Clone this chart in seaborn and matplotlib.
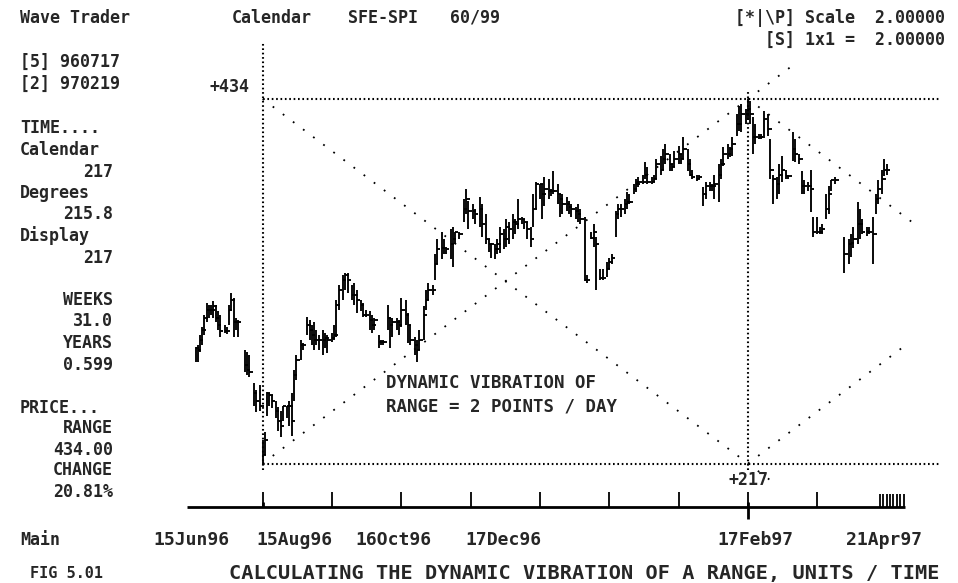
import pandas as pd
import seaborn as sns
import matplotlib.pyplot as plt

# daily bars, calendar days after 15Jun96, points above the 15Jul96 low
day = [0, 1, 2, 3, 4, 5, 6, 7, 8, 9, 10, 11, 13, 14, 15, 16, 17, 18, 19, 22,
       23, 24, 26, 27, 29, 30, 31, 32, 33, 34, 36, 37, 38, 39, 41, 42, 43, 44, 45, 47,
       48, 50, 51, 52, 53, 54, 55, 57, 58, 59, 61, 62, 63, 64, 66, 67, 68, 70, 71, 72,
       74, 75, 76, 78, 79, 80, 82, 83, 84, 86, 87, 88, 90, 91, 92, 94, 95, 96, 98, 99,
       100, 102, 103, 104, 106, 107, 108, 110, 111, 112, 114, 115, 116, 118, 120, 121, 122, 124, 125, 127,
       128, 130, 131, 132, 134, 135, 136, 138, 139, 140, 142, 143, 144, 146, 147, 148, 150, 151, 152, 154,
       155, 156, 158, 159, 160, 162, 163, 164, 166, 167, 168, 170, 171, 172, 174, 175, 177, 178, 179, 181,
       182, 184, 185, 186, 188, 189, 190, 192, 193, 194, 196, 197, 198, 200, 201, 202, 204, 205, 206, 208,
       209, 210, 212, 213, 214, 216, 217, 218, 220, 221, 222, 224, 225, 227, 228, 230, 231, 232, 234, 235,
       236, 238, 239, 240, 242, 243, 244, 246, 247, 248, 249, 250, 252, 253, 254, 256, 257, 258, 260, 261,
       262, 264, 265, 267, 268, 270, 271, 272, 274, 275, 276, 278, 279, 280, 282, 283, 284, 286, 290, 292,
       293, 294, 296, 297, 298, 300, 301, 303, 304, 305, 307, 308, 309]
high = [139, 141, 153, 163, 177, 191, 189, 189, 193, 189, 181, 177, 165, 163, 189, 203, 197, 173, 171, 135,
        133, 129, 96, 87, 93, 28, 37, 85, 84, 81, 75, 67, 63, 69, 69, 75, 84, 111, 129, 147,
        143, 175, 171, 165, 169, 159, 153, 159, 155, 153, 155, 165, 195, 213, 225, 227, 227, 213, 215, 207,
        195, 191, 183, 181, 177, 173, 153, 147, 147, 189, 175, 173, 173, 171, 197, 195, 179, 165, 151, 147,
        159, 187, 207, 215, 213, 249, 267, 276, 267, 257, 279, 282, 276, 276, 315, 327, 312, 309, 303, 317,
        309, 297, 267, 261, 261, 267, 282, 279, 291, 288, 297, 291, 315, 293, 291, 288, 282, 321, 335, 333,
        333, 341, 339, 327, 348, 333, 321, 321, 317, 312, 309, 305, 309, 303, 294, 225, 276, 285, 270, 231,
        231, 240, 245, 249, 300, 309, 309, 315, 323, 321, 333, 339, 341, 344, 359, 353, 341, 344, 362, 366,
        374, 380, 368, 356, 372, 378, 368, 389, 374, 362, 350, 344, 344, 329, 335, 335, 333, 344, 356, 362,
        377, 380, 377, 389, 416, 425, 428, 422, 434, 431, 413, 404, 392, 392, 420, 416, 386, 344, 341, 356,
        366, 350, 344, 395, 386, 368, 348, 338, 335, 350, 294, 293, 281, 285, 321, 330, 338, 341, 270, 267,
        273, 281, 311, 303, 291, 281, 281, 294, 321, 338, 350, 362, 356]
low = [121, 121, 133, 141, 153, 169, 173, 177, 173, 169, 159, 151, 155, 154, 165, 181, 151, 159, 151, 109,
       105, 103, 69, 61, 63, 0, 10, 57, 69, 66, 54, 39, 31, 51, 54, 45, 33, 75, 99, 123,
       135, 153, 147, 141, 135, 141, 135, 129, 137, 132, 145, 147, 151, 183, 195, 207, 203, 195, 189, 179,
       181, 175, 175, 159, 155, 159, 137, 141, 141, 159, 137, 151, 159, 153, 163, 165, 144, 141, 129, 121,
       135, 147, 183, 195, 201, 219, 237, 243, 249, 249, 243, 234, 261, 267, 287, 297, 279, 291, 285, 282,
       270, 261, 252, 245, 243, 249, 251, 255, 258, 261, 267, 273, 279, 285, 279, 267, 258, 282, 303, 315,
       291, 306, 315, 318, 321, 309, 294, 297, 300, 297, 294, 291, 287, 285, 217, 215, 267, 258, 207, 219,
       219, 222, 231, 237, 270, 291, 293, 297, 303, 309, 321, 323, 329, 333, 339, 333, 333, 335, 339, 344,
       350, 356, 348, 348, 353, 356, 356, 362, 348, 342, 339, 336, 339, 306, 315, 324, 324, 315, 311, 339,
       354, 362, 365, 366, 390, 396, 395, 404, 410, 404, 368, 380, 386, 386, 390, 390, 339, 309, 315, 321,
       335, 339, 339, 360, 359, 356, 321, 321, 324, 299, 270, 273, 273, 273, 291, 297, 324, 333, 227, 237,
       246, 257, 261, 267, 273, 271, 273, 237, 297, 309, 321, 342, 344]
close = [137, 135, 147, 159, 173, 183, 183, 183, 188, 173, 165, 158, 158, 158, 183, 195, 169, 169, 169, 117,
         111, 109, 84, 75, 69, 10, 28, 84, 81, 75, 63, 51, 45, 69, 69, 69, 51, 105, 123, 141,
         141, 165, 159, 153, 147, 147, 147, 147, 149, 147, 149, 153, 189, 207, 219, 225, 219, 201, 201, 195,
         189, 177, 177, 171, 165, 171, 145, 145, 145, 173, 165, 169, 169, 165, 183, 177, 165, 147, 141, 135,
         147, 177, 195, 207, 207, 237, 255, 257, 257, 255, 261, 267, 276, 273, 303, 315, 300, 300, 297, 303,
         285, 267, 261, 261, 255, 261, 273, 267, 281, 279, 288, 285, 291, 291, 288, 279, 267, 303, 333, 333,
         321, 327, 324, 324, 324, 321, 315, 309, 309, 305, 303, 300, 297, 291, 219, 219, 269, 276, 261, 221,
         221, 231, 240, 245, 297, 303, 303, 309, 311, 311, 327, 333, 335, 335, 344, 335, 335, 339, 356, 350,
         362, 368, 356, 353, 362, 368, 362, 374, 356, 344, 341, 339, 341, 321, 330, 330, 330, 333, 344, 356,
         368, 368, 374, 380, 404, 404, 416, 416, 422, 416, 389, 389, 389, 389, 410, 398, 350, 339, 333, 344,
         350, 342, 342, 374, 368, 362, 330, 330, 330, 327, 276, 276, 276, 279, 303, 321, 337, 337, 249, 261,
         263, 267, 285, 285, 275, 275, 275, 273, 315, 327, 339, 350, 350]

# range construction: low day, high day, range in points
low_day, high_day, rng = 30, 247, 434
cycle_ticks = [30, 61, 92, 123, 154, 185, 216, 247, 278]
future_ticks = [306, 307.5, 309, 310.5, 312, 313.5, 315, 316.5]

date_labels = ['15Jun96', '15Aug96', '16Oct96', '17Dec96', '17Feb97', '21Apr97']
date_label_px = [191, 294, 393, 503, 755, 884]

left_panel = [
    ('[5] 960717', 'l', 62), ('[2] 970219', 'l', 84),
    ('TIME....', 'l', 128), ('Calendar', 'l', 150), ('217', 'r', 172),
    ('Degrees', 'l', 193), ('215.8', 'r', 214), ('Display', 'l', 236), ('217', 'r', 258),
    ('WEEKS', 'r', 300), ('31.0', 'r', 321), ('YEARS', 'r', 343), ('0.599', 'r', 365),
    ('PRICE...', 'l', 408), ('RANGE', 'r', 428), ('434.00', 'r', 450),
    ('CHANGE', 'r', 470), ('20.81%', 'r', 492),
]

W, H = 958, 583
sns.set_theme(style='white')
plt.rcParams['font.family'] = ['DejaVu Sans Mono']
plt.rcParams['font.weight'] = 'bold'

fig = plt.figure(figsize=(W / 100, H / 100), dpi=100)
ax = fig.add_axes([0, 0, 1, 1])
ax.set_axis_off()
# pixel frame of the screen: day 0 at x=195.5, 2.237 px per day; low at y=463.5, 0.84 px per point
ax.set_xlim(-195.5 / 2.237, (W - 195.5) / 2.237)
ax.set_ylim(-(H - 463.5) / 0.84, 463.5 / 0.84)

bars = pd.DataFrame({'day': day, 'high': high, 'low': low, 'close': close})
ax.vlines(bars['day'], bars['low'], bars['high'], color='black', lw=1.35)
ax.hlines(bars['close'], bars['day'], bars['day'] + 1.5, color='black', lw=1.35)

dot = (0, (0.8, 1.3))
gann = (0, (1, 6))


def seg(x, y, ls, lw):
    sns.lineplot(x=x, y=y, ax=ax, color='black', linestyle=ls, lw=lw,
                 estimator=None, sort=False)


# range box
seg([low_day, 333], [rng, rng], dot, 1.5)
seg([low_day, 333], [0, 0], dot, 1.5)
seg([low_day, low_day], [-8, 500], dot, 1.5)
seg([high_day, high_day], [-8, 442], dot, 1.5)
# 2 points / day lines
seg([low_day, high_day + 12], [rng, -24], gann, 1.3)
seg([low_day, high_day + 20], [0, rng + 40], gann, 1.3)
seg([high_day, 321], [rng, rng - 2 * 74], gann, 1.3)
seg([high_day, 317], [0, 2 * 70], gann, 1.3)

# time bar
ax.hlines(-52, -4, 317, color='black', lw=2)
ax.vlines(cycle_ticks, -52, -34, color='black', lw=1.3)
ax.vlines([low_day, high_day], -52, -46, color='black', lw=2)
ax.vlines(high_day, -52, -66, color='black', lw=2)
ax.vlines(future_ticks, -52, -36, color='black', lw=1.3)

ax.text(low_day - 6, rng + 14, '+434', ha='right', va='center', fontsize=12)
ax.text(high_day, -20, '+217', ha='center', va='center', fontsize=12)
ax.text(85, 96, 'DYNAMIC VIBRATION OF', ha='left', va='center', fontsize=12.5)
ax.text(85, 68, 'RANGE = 2 POINTS / DAY', ha='left', va='center', fontsize=12.5)


def t(x, y, s, ha='left', size=12):
    fig.text(x / W, 1 - y / H, s, ha=ha, va='center', fontsize=size)


t(20, 18, 'Wave Trader')
t(232, 18, 'Calendar')
t(348, 18, 'SFE-SPI')
t(450, 18, '60/99')
t(945, 18, '[*|\\P] Scale  2.00000', ha='right')
t(945, 40, '[S] 1x1 =  2.00000', ha='right')
for s, side, y in left_panel:
    if side == 'l':
        t(20, y, s)
    else:
        t(113, y, s, ha='right')
t(20, 540, 'Main')
for s, x in zip(date_labels, date_label_px):
    t(x, 540, s, ha='center', size=13)
t(30, 573, 'FIG 5.01', size=11)
t(584, 573, 'CALCULATING THE DYNAMIC VIBRATION OF A RANGE, UNITS / TIME', ha='center', size=14.6)

fig.savefig('out.png', dpi=100, facecolor='white')
